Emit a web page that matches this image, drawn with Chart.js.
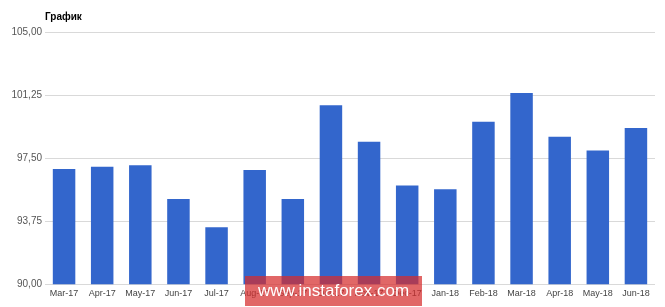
<!DOCTYPE html>
<html>
<head>
<meta charset="utf-8">
<script src="https://cdn.jsdelivr.net/npm/chart.js@4/dist/chart.umd.min.js"></script>
<style>
  html, body { margin: 0; padding: 0; background: #fff; }
  #wrap { position: relative; width: 665px; height: 307px; }
  #mark {
    position: absolute; left: 245px; top: 276px; width: 177px; height: 30px;
    background: rgba(213, 45, 45, 0.72); color: #fff;
    font: 17px "Liberation Sans", Arial, sans-serif; line-height: 30px; text-align: center;
  }
</style>
</head>
<body>
<div id="wrap">
  <canvas id="chart" width="665" height="307"></canvas>
  <div id="mark">www.instaforex.com</div>
</div>
<script>
const months = ['Mar-17', 'Apr-17', 'May-17', 'Jun-17', 'Jul-17', 'Aug-17', 'Sep-17', 'Oct-17',
  'Nov-17', 'Dec-17', 'Jan-18', 'Feb-18', 'Mar-18', 'Apr-18', 'May-18', 'Jun-18'];
const values = [96.85, 96.98, 97.08, 95.06, 93.39, 96.79, 95.06, 100.65,
  98.47, 95.87, 95.65, 99.66, 101.37, 98.77, 97.95, 99.29];
const yTicks = [90, 93.75, 97.5, 101.25, 105];
const chartTitle = 'График';

const font = '"Liberation Sans", Arial, sans-serif';

// title sits at the left edge of the plot, not the canvas
const titlePlugin = {
  id: 'leftTitle',
  afterDraw(chart) {
    const ctx = chart.ctx;
    ctx.save();
    ctx.font = `bold 10px ${font}`;
    ctx.fillStyle = '#000';
    ctx.textBaseline = 'middle';
    ctx.fillText(chartTitle, chart.chartArea.left, 17);
    ctx.restore();
  }
};

new Chart(document.getElementById('chart'), {
  type: 'bar',
  data: {
    labels: months,
    datasets: [{ data: values, backgroundColor: '#3366cc', categoryPercentage: 1, barPercentage: 0.59 }]
  },
  options: {
    responsive: false,
    animation: false,
    layout: { padding: { top: 32, right: 10, bottom: 4, left: 0 } },
    plugins: { legend: { display: false }, tooltip: { enabled: false } },
    scales: {
      y: {
        min: 90, max: 105,
        afterFit(scale) { scale.width = 45; },
        afterBuildTicks(scale) { scale.ticks = yTicks.map((value) => ({ value })); },
        ticks: {
          callback: (value) => value.toFixed(2).replace('.', ','),
          font: { family: font, size: 10 }, color: '#555', padding: 3
        },
        grid: { color: '#d9d9d9', drawTicks: false },
        border: { display: false }
      },
      x: {
        ticks: { font: { family: font, size: 9 }, color: '#444', padding: 4, maxRotation: 0, autoSkip: false },
        grid: { display: false, drawTicks: false },
        border: { display: false }
      }
    }
  },
  plugins: [titlePlugin]
});
</script>
</body>
</html>
